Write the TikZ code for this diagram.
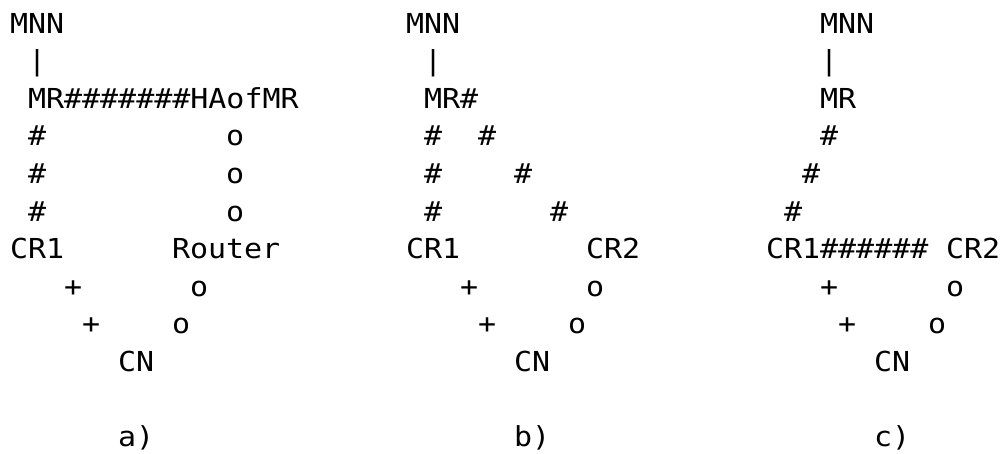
\documentclass[tikz,border=0pt]{standalone}
\usepackage{fontspec}
\newfontfamily\asciifont[FakeStretch=1.09]{DejaVu Sans Mono}
\begin{document}
\begin{tikzpicture}[x=1pt,y=1pt,
  txt/.style={anchor=base west, inner sep=0pt, outer sep=0pt,
    font=\asciifont\fontsize{27.5}{30}\selectfont}]
\useasboundingbox (0,0) rectangle (1004,454);
\begin{scope}[shift={(10pt,420.7pt)}, x=18pt, y=-37.55pt]
% row 1
\node[txt] (mnnA) at (0,0) {MNN};
\node[txt] (mnnB) at (22,0) {MNN};
\node[txt] (mnnC) at (45,0) {MNN};
% row 2
\node[txt] (barA) at (1,1) {|};
\node[txt] (barB) at (23,1) {|};
\node[txt] (barC) at (45,1) {|};
% row 3
\node[txt] (mrA) at (1,2) {MR\#\#\#\#\#\#\#HAofMR};
\node[txt] (mrB) at (23,2) {MR\#};
\node[txt] (mrC) at (45,2) {MR};
% row 4
\node[txt] (hA4) at (1,3) {\#};
\node[txt] (oA4) at (12,3) {o};
\node[txt] (hB4) at (23,3) {\#};
\node[txt] (dB4) at (26,3) {\#};
\node[txt] (hC4) at (45,3) {\#};
% row 5
\node[txt] (hA5) at (1,4) {\#};
\node[txt] (oA5) at (12,4) {o};
\node[txt] (hB5) at (23,4) {\#};
\node[txt] (dB5) at (28,4) {\#};
\node[txt] (hC5) at (44,4) {\#};
% row 6
\node[txt] (hA6) at (1,5) {\#};
\node[txt] (oA6) at (12,5) {o};
\node[txt] (hB6) at (23,5) {\#};
\node[txt] (dB6) at (30,5) {\#};
\node[txt] (hC6) at (43,5) {\#};
% row 7
\node[txt] (cr1A) at (0,6) {CR1};
\node[txt] (router) at (9,6) {Router};
\node[txt] (cr1B) at (22,6) {CR1};
\node[txt] (cr2B) at (32,6) {CR2};
\node[txt] (cr1C) at (42,6) {CR1\#\#\#\#\#\#};
\node[txt] (cr2C) at (52,6) {CR2};
% row 8
\node[txt] (pA8) at (3,7) {+};
\node[txt] (oA8) at (10,7) {o};
\node[txt] (pB8) at (25,7) {+};
\node[txt] (oB8) at (32,7) {o};
\node[txt] (pC8) at (45,7) {+};
\node[txt] (oC8) at (52,7) {o};
% row 9
\node[txt] (pA9) at (4,8) {+};
\node[txt] (oA9) at (9,8) {o};
\node[txt] (pB9) at (26,8) {+};
\node[txt] (oB9) at (31,8) {o};
\node[txt] (pC9) at (46,8) {+};
\node[txt] (oC9) at (51,8) {o};
% row 10
\node[txt] (cnA) at (6,9) {CN};
\node[txt] (cnB) at (28,9) {CN};
\node[txt] (cnC) at (48,9) {CN};
% row 12
\node[txt] (capA) at (6,11) {a)};
\node[txt] (capB) at (28,11) {b)};
\node[txt] (capC) at (48,11) {c)};
\end{scope}
\end{tikzpicture}
\end{document}
